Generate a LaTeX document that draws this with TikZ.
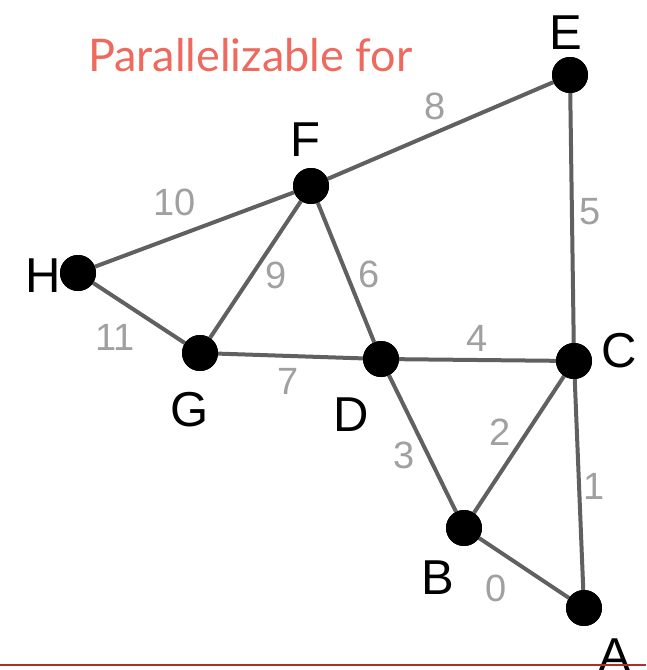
\documentclass[tikz,border=0pt]{standalone}
\usepackage{fontspec}
\setmainfont{Liberation Sans}
\newfontfamily\titlefont{Lato}
\definecolor{edgegray}{HTML}{606060}
\definecolor{lblgray}{HTML}{A0A0A0}
\definecolor{titlered}{HTML}{EE6A5E}
\definecolor{rulered}{HTML}{A83228}
\begin{document}
\begin{tikzpicture}[x=1pt,y=-1pt,
  vtx/.style={circle,fill=black,minimum size=36pt,inner sep=0pt},
  vlbl/.style={font=\fontsize{49}{49}\selectfont,text=black,inner sep=0pt},
  elbl/.style={font=\fontsize{38}{38}\selectfont,text=lblgray,inner sep=0pt},
  edge/.style={draw=edgegray,line width=4pt}]
\useasboundingbox (0,0) rectangle (646,670);
\node[vtx] (E) at (570,75) {};
\node[vtx] (F) at (311,186) {};
\node[vtx] (H) at (78,273) {};
\node[vtx] (G) at (200,353) {};
\node[vtx] (D) at (381,359) {};
\node[vtx] (C) at (574,361) {};
\node[vtx] (B) at (464,528) {};
\node[vtx] (A) at (584,608) {};
\draw[edge] (B) -- (A);
\draw[edge] (C) -- (A);
\draw[edge] (C) -- (B);
\draw[edge] (D) -- (B);
\draw[edge] (D) -- (C);
\draw[edge] (E) -- (C);
\draw[edge] (F) -- (D);
\draw[edge] (G) -- (D);
\draw[edge] (F) -- (E);
\draw[edge] (G) -- (F);
\draw[edge] (H) -- (F);
\draw[edge] (H) -- (G);
\node[vtx] at (E) {};\node[vtx] at (F) {};\node[vtx] at (H) {};\node[vtx] at (G) {};
\node[vtx] at (D) {};\node[vtx] at (C) {};\node[vtx] at (B) {};\node[vtx] at (A) {};
\node[vlbl] (lE) at (566,33) {E};
\node[vlbl] (lF) at (305,140) {F};
\node[vlbl] (lH) at (43,276) {H};
\node[vlbl] (lG) at (190,410) {G};
\node[vlbl] (lD) at (351,415) {D};
\node[vlbl] (lC) at (619,351) {C};
\node[vlbl] (lB) at (438,578) {B};
\node[vlbl] (lA) at (615,656) {A};
\node[elbl] (e8) at (435,106) {8};
\node[elbl] (e10) at (175,202) {10};
\node[elbl] (e5) at (590,212) {5};
\node[elbl] (e9) at (276,275) {9};
\node[elbl] (e6) at (369,274) {6};
\node[elbl] (e11) at (115,337) {11};
\node[elbl] (e4) at (477,338) {4};
\node[elbl] (e7) at (288,381) {7};
\node[elbl] (e2) at (500,432) {2};
\node[elbl] (e3) at (404,455) {3};
\node[elbl] (e1) at (594,486) {1};
\node[elbl] (e0) at (496,588) {0};
\node[font=\titlefont\fontsize{45}{45}\selectfont,text=titlered,inner sep=0pt,anchor=west] (title) at (88,55) {Parallelizable for};
\coordinate (rl) at (0,665);
\coordinate (rr) at (646,665);
\draw[rulered,line width=2.5pt] (rl) -- (rr);
\end{tikzpicture}
\end{document}
